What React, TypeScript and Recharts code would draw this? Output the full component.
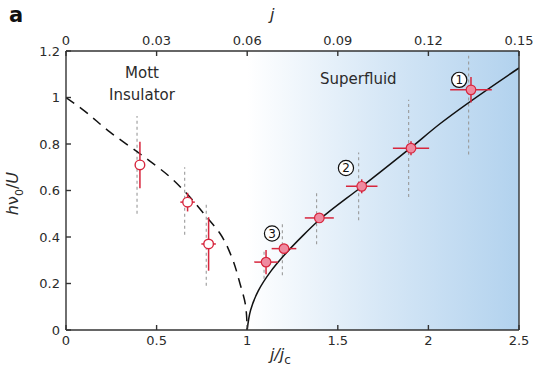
import {
  ComposedChart,
  Line,
  Scatter,
  XAxis,
  YAxis,
  ErrorBar,
  ReferenceArea,
  ReferenceLine,
  ReferenceDot,
} from "recharts";

const FONT = "'DejaVu Sans', sans-serif";
const RED = "#d7263d";
const PINK = "#ef8aa0";
const INK = "#2b2b2b";

// Mott insulator points (open markers)
const mottX = [0.408, 0.671, 0.787];
const mottY = [0.71, 0.55, 0.37];
const mottXErr = [0, 0.04, 0.04];
const mottYErr = [0.1, 0.04, 0.115];
const mottRangeX = [0.392, 0.655, 0.774];
const mottRangeLow = [0.5, 0.41, 0.19];
const mottRangeHigh = [0.92, 0.7, 0.55];

// superfluid points (filled markers)
const sfX = [1.104, 1.203, 1.398, 1.632, 1.904, 2.235];
const sfY = [0.292, 0.35, 0.482, 0.618, 0.782, 1.033];
const sfXErr = [0.065, 0.068, 0.08, 0.087, 0.1, 0.115];
const sfYErr = [0.052, 0.02, 0.02, 0.03, 0.03, 0.055];
const sfRangeX = [1.093, 1.194, 1.383, 1.615, 1.891, 2.222];
const sfRangeLow = [0.22, 0.236, 0.369, 0.472, 0.572, 0.755];
const sfRangeHigh = [0.34, 0.465, 0.594, 0.763, 0.99, 1.18];

// theory curves
const mottCurveX = [0, 0.087, 0.243, 0.408, 0.574, 0.666, 0.776, 0.85, 0.914, 0.96, 0.992, 1.0];
const mottCurveY = [1.0, 0.951, 0.851, 0.758, 0.658, 0.587, 0.486, 0.415, 0.315, 0.2, 0.1, 0];
const sfCurveX = [1.0, 1.019, 1.061, 1.13, 1.2, 1.31, 1.4, 1.63, 1.9, 2.064, 2.5];
const sfCurveY = [0, 0.086, 0.168, 0.252, 0.318, 0.408, 0.475, 0.615, 0.782, 0.887, 1.127];

// circled labels
const markLabels = ["1", "2", "3"];
const markX = [2.17, 1.545, 1.137];
const markY = [1.076, 0.697, 0.415];

const xTicks = [0, 0.5, 1, 1.5, 2, 2.5];
const jTicks = [0, 0.03, 0.06, 0.09, 0.12, 0.15];
const yTicks = [0, 0.2, 0.4, 0.6, 0.8, 1, 1.2];

const mottData = mottX.map((x, i) => ({ x, y: mottY[i], ex: mottXErr[i], ey: mottYErr[i] }));
const sfData = sfX.map((x, i) => ({ x, y: sfY[i], ex: sfXErr[i], ey: sfYErr[i] }));
const mottCurve = mottCurveX.map((x, i) => ({ x, y: mottCurveY[i] }));
const sfCurve = sfCurveX.map((x, i) => ({ x, y: sfCurveY[i] }));
// invisible anchors so the top and right axes get drawn
const anchorData = [{ x: 0, y: 0 }];

const tickStyle = { fontSize: 13, fill: INK, fontFamily: FONT };
const axisStyle = { stroke: "#333", strokeWidth: 1.4 };

function OpenDot(p: any) {
  return <circle cx={p.cx} cy={p.cy} r={4.8} fill="#fff" stroke={RED} strokeWidth={1.4} />;
}

function FilledDot(p: any) {
  return <circle cx={p.cx} cy={p.cy} r={4.8} fill={PINK} stroke={RED} strokeWidth={1.2} />;
}

function CircledNum(p: any) {
  return (
    <g>
      <circle cx={p.cx} cy={p.cy} r={7.6} fill="#fff" stroke="#111" strokeWidth={1.2} />
      <text x={p.cx} y={p.cy + 4.3} textAnchor="middle" fontSize={12} fontFamily={FONT} fill="#111">
        {p.text}
      </text>
    </g>
  );
}

const abs = (left: number, top: number, extra: React.CSSProperties = {}): React.CSSProperties => ({
  position: "absolute",
  left,
  top,
  fontFamily: FONT,
  color: INK,
  lineHeight: 1,
  whiteSpace: "nowrap",
  ...extra,
});

export default function App() {
  return (
    <div style={{ position: "absolute", left: 0, top: 0, width: 537, height: 367, background: "#fff" }}>
      <ComposedChart width={537} height={367} margin={{ top: 21, right: 8, bottom: 7, left: 16 }}>
        <defs>
          <linearGradient id="sfGrad" x1="0" y1="0" x2="1" y2="0">
            <stop offset="0%" stopColor="#ffffff" />
            <stop offset="50%" stopColor="#d6e7f6" />
            <stop offset="100%" stopColor="#b2d2ee" />
          </linearGradient>
        </defs>
        <XAxis
          xAxisId="b"
          dataKey="x"
          type="number"
          domain={[0, 2.5]}
          ticks={xTicks}
          height={30}
          tick={tickStyle}
          tickSize={-5}
          tickMargin={11}
          axisLine={axisStyle}
          tickLine={axisStyle}
          allowDataOverflow
        />
        <XAxis
          xAxisId="top"
          dataKey="x"
          orientation="top"
          type="number"
          domain={[0, 0.15]}
          ticks={jTicks}
          height={30}
          tick={tickStyle}
          tickSize={-5}
          tickMargin={11}
          axisLine={axisStyle}
          tickLine={axisStyle}
          allowDataOverflow
        />
        <YAxis
          yAxisId="l"
          dataKey="y"
          type="number"
          domain={[0, 1.2]}
          ticks={yTicks}
          width={50}
          tick={tickStyle}
          tickSize={-5}
          tickMargin={11}
          axisLine={axisStyle}
          tickLine={axisStyle}
          allowDataOverflow
        />
        <YAxis
          yAxisId="r"
          dataKey="y"
          orientation="right"
          type="number"
          domain={[0, 1.2]}
          ticks={yTicks}
          width={10}
          tick={false}
          tickSize={-5}
          axisLine={axisStyle}
          tickLine={axisStyle}
          allowDataOverflow
        />
        <ReferenceArea
          xAxisId="b"
          yAxisId="l"
          x1={1}
          x2={2.5}
          y1={0}
          y2={1.2}
          fill="url(#sfGrad)"
          fillOpacity={1}
          stroke="none"
        />
        <Scatter
          xAxisId="top"
          yAxisId="r"
          data={anchorData}
          shape={() => <g />}
          isAnimationActive={false}
        />
        {mottRangeX.map((x, i) => (
          <ReferenceLine
            key={`mr${i}`}
            xAxisId="b"
            yAxisId="l"
            segment={[{ x, y: mottRangeLow[i] }, { x, y: mottRangeHigh[i] }]}
            stroke="#9a9a9a"
            strokeWidth={1.1}
            strokeDasharray="3 3"
          />
        ))}
        {sfRangeX.map((x, i) => (
          <ReferenceLine
            key={`sr${i}`}
            xAxisId="b"
            yAxisId="l"
            segment={[{ x, y: sfRangeLow[i] }, { x, y: sfRangeHigh[i] }]}
            stroke="#9a9a9a"
            strokeWidth={1.1}
            strokeDasharray="3 3"
          />
        ))}
        <Line
          xAxisId="b"
          yAxisId="l"
          data={mottCurve}
          dataKey="y"
          type="monotoneY"
          stroke="#111"
          strokeWidth={1.5}
          strokeDasharray="10 7"
          dot={false}
          isAnimationActive={false}
        />
        <Line
          xAxisId="b"
          yAxisId="l"
          data={sfCurve}
          dataKey="y"
          type="monotoneY"
          stroke="#111"
          strokeWidth={1.5}
          dot={false}
          isAnimationActive={false}
        />
        <Scatter xAxisId="b" yAxisId="l" data={mottData} shape={OpenDot} isAnimationActive={false}>
          <ErrorBar dataKey="ex" direction="x" width={0} stroke={RED} strokeWidth={1.5} />
          <ErrorBar dataKey="ey" direction="y" width={0} stroke={RED} strokeWidth={1.5} />
        </Scatter>
        <Scatter xAxisId="b" yAxisId="l" data={sfData} shape={FilledDot} isAnimationActive={false}>
          <ErrorBar dataKey="ex" direction="x" width={0} stroke={RED} strokeWidth={1.5} />
          <ErrorBar dataKey="ey" direction="y" width={0} stroke={RED} strokeWidth={1.5} />
        </Scatter>
        {markLabels.map((t, i) => (
          <ReferenceDot
            key={`m${i}`}
            xAxisId="b"
            yAxisId="l"
            x={markX[i]}
            y={markY[i]}
            shape={(p: any) => <CircledNum {...p} text={t} />}
          />
        ))}
      </ComposedChart>

      <div style={abs(9, 5, { fontSize: 21, fontWeight: "bold", color: "#111" })}>a</div>
      <div style={abs(270, 7, { fontSize: 16, fontStyle: "italic" })}>j</div>
      <div style={abs(270, 347, { fontSize: 16, fontStyle: "italic" })}>
        j/j<sub style={{ fontSize: 12, fontStyle: "normal" }}>c</sub>
      </div>
      <div
        style={abs(-20, 184, {
          fontSize: 16,
          transform: "rotate(-90deg)",
          transformOrigin: "center",
          width: 70,
          textAlign: "center",
        })}
      >
        <i>h</i>ν<sub style={{ fontSize: 11 }}>0</sub>/<i>U</i>
      </div>
      <div style={abs(107, 62, { fontSize: 15, textAlign: "center", width: 70, lineHeight: "22px" })}>
        Mott
        <br />
        Insulator
      </div>
      <div style={abs(320, 72, { fontSize: 15 })}>Superfluid</div>
    </div>
  );
}
